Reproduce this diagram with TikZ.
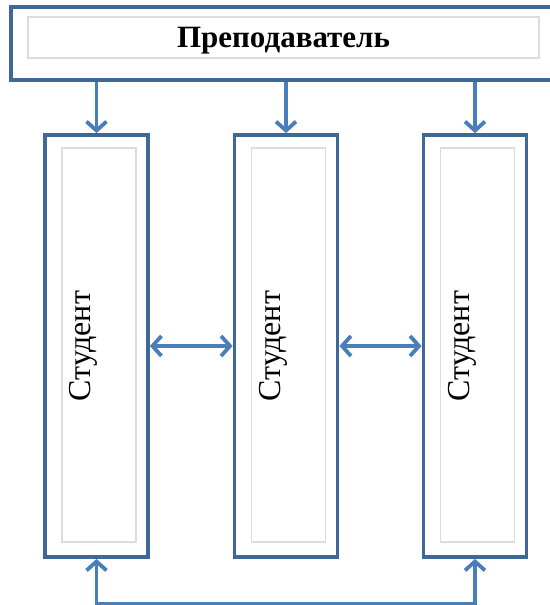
\documentclass[tikz,border=0pt]{standalone}
\usepackage{fontspec}
\setmainfont{Liberation Serif}
\usetikzlibrary{arrows.meta}

\definecolor{boxblue}{HTML}{3F6797}
\definecolor{arrblue}{HTML}{4A7EBB}
\definecolor{ingray}{HTML}{DCDCDC}

\tikzset{
	outer/.style={draw=boxblue,line width=3.8pt,fill=white,inner sep=0pt},
	inner/.style={draw=ingray,line width=1.5pt,inner sep=0pt},
	link/.style={arrblue,line width=3.8pt,-{Straight Barb[length=9pt,width=20pt]}},
	dlink/.style={arrblue,line width=3.8pt,{Straight Barb[length=9pt,width=20pt]}-{Straight Barb[length=9pt,width=20pt]}}
}

\begin{document}
\begin{tikzpicture}[x=1pt,y=-1pt]
	\useasboundingbox (0,0) rectangle (549,605);
	
	% teacher
	\node[outer,minimum width=549pt,minimum height=73pt] (teacher) at (285.5,43.5) {};
	\node[inner,minimum width=511pt,minimum height=41pt] (teacherin) at (283.5,37.5) {};
	\node[font=\bfseries\fontsize{31}{31}\selectfont] (teachertxt) at (283.5,41) {Преподаватель};
	
	% students
	\foreach \i/\x in {1/96.5,2/286,3/475}{
		\node[outer,minimum width=103pt,minimum height=422pt] (s\i) at (\x,346) {};
		\node[inner,minimum width=74pt,minimum height=394pt] (s\i in) at (\x+2.5,345) {};
		\node[rotate=90,font=\fontsize{32}{32}\selectfont] (s\i txt) at (\x-13,346) {Студент};
	}
	
	\foreach \i in {1,2,3}
		\draw[link] (teacher.south -| s\i.north) -- (s\i.north);
	
	\draw[dlink] (s1.east) -- (s2.west);
	\draw[dlink] (s2.east) -- (s3.west);
	\draw[dlink] (s1.south) -- ++(0,45) -| (s3.south);
\end{tikzpicture}
\end{document}
